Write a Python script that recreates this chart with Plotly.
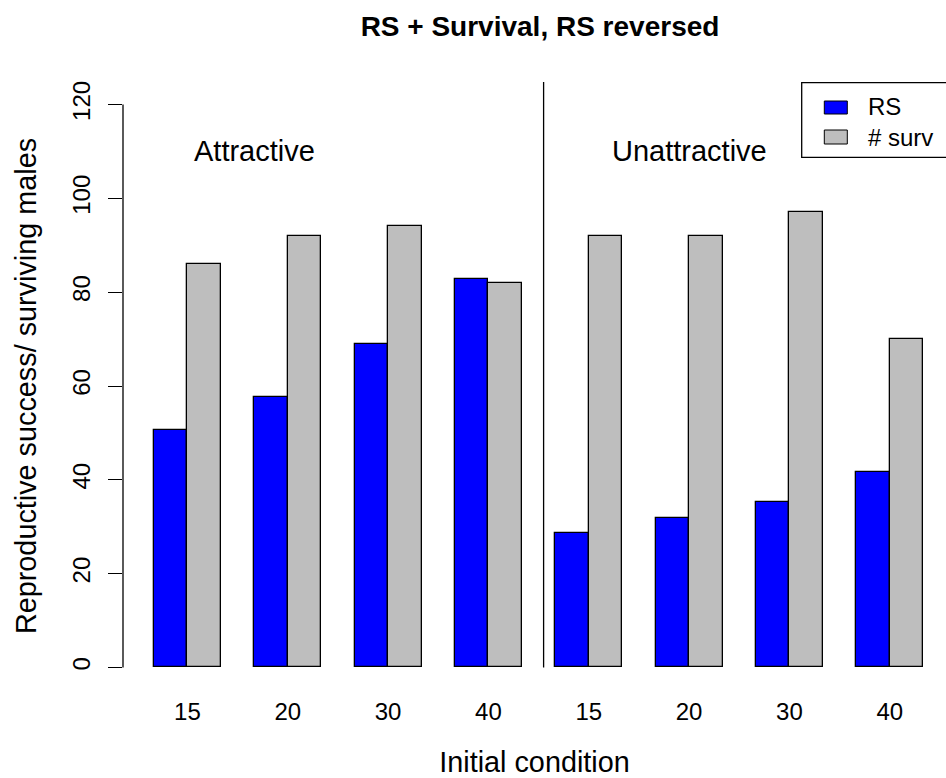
import plotly.graph_objects as go

# ---- data ----
groups = ["Attractive"] * 4 + ["Unattractive"] * 4
conditions = ["15", "20", "30", "40", "15", "20", "30", "40"]
rs_values = [50.6, 57.6, 69.0, 82.9, 28.6, 31.8, 35.3, 41.6]
surv_values = [86.1, 92.0, 94.1, 82.0, 92.0, 92.0, 97.0, 70.0]
y_ticks = [0, 20, 40, 60, 80, 100, 120]

FONT = "Liberation Sans, Arial, Helvetica, sans-serif"
BLUE = "#0000FF"
GRAY = "#BEBEBE"

W, H = 946, 778
ML, MR, MT, MB = 123, 0, 82, 88
PW, PH = W - ML - MR, H - MT - MB

# R barplot layout: each group = 1 space + 2 bars (width 1)
n = len(conditions)
rs_x = [1.5 + 3 * i for i in range(n)]
sv_x = [2.5 + 3 * i for i in range(n)]
centers = [2 + 3 * i for i in range(n)]

# pixel helpers for non-data decorations (legend box)
def px(xp):
    return (xp - ML) / PW

def py(yp):
    return (H - MB - yp) / PH

fig = go.Figure()
fig.add_trace(go.Bar(x=rs_x, y=rs_values, width=1, name="RS",
                     marker=dict(color=BLUE, line=dict(color="black", width=1.3)),
                     showlegend=False))
fig.add_trace(go.Bar(x=sv_x, y=surv_values, width=1, name="# surv",
                     marker=dict(color=GRAY, line=dict(color="black", width=1.3)),
                     showlegend=False))

shapes = []
# y axis spine from 0 to 120 (R style)
shapes.append(dict(type="line", xref="paper", yref="y", x0=0, x1=0, y0=0, y1=120,
                   line=dict(color="black", width=1.3)))
# separator line
shapes.append(dict(type="line", xref="x", yref="y", x0=12.65, x1=12.65, y0=0, y1=124.8,
                   line=dict(color="black", width=1.3)))
# legend box (extends past right edge as in the original)
shapes.append(dict(type="rect", xref="paper", yref="paper",
                   x0=px(801.7), x1=px(960), y0=py(157.3), y1=py(82.7),
                   line=dict(color="black", width=1.3), fillcolor="white"))
shapes.append(dict(type="rect", xref="paper", yref="paper",
                   x0=px(824.3), x1=px(847.3), y0=py(114), y1=py(101),
                   line=dict(color="black", width=1), fillcolor=BLUE))
shapes.append(dict(type="rect", xref="paper", yref="paper",
                   x0=px(824.3), x1=px(847.3), y0=py(144), y1=py(130),
                   line=dict(color="black", width=1), fillcolor=GRAY))

annotations = [
    dict(text="Attractive", x=4, y=110, xref="x", yref="y", showarrow=False,
         font=dict(size=29, color="black", family=FONT)),
    dict(text="Unattractive", x=17, y=110, xref="x", yref="y", showarrow=False,
         font=dict(size=29, color="black", family=FONT)),
    dict(text="RS", x=px(866), y=py(107), xref="paper", yref="paper", xanchor="left",
         yanchor="middle", showarrow=False, font=dict(size=24, color="black", family=FONT)),
    dict(text="# surv", x=px(866), y=py(137), xref="paper", yref="paper", xanchor="left",
         yanchor="middle", showarrow=False, font=dict(size=24, color="black", family=FONT)),
]

fig.update_layout(
    width=W, height=H,
    margin=dict(l=ML, r=MR, t=MT, b=MB, autoexpand=False),
    paper_bgcolor="white", plot_bgcolor="white",
    barmode="overlay", bargap=0,
    font=dict(family=FONT, color="black", size=24),
    title=dict(text="<b>RS + Survival, RS reversed</b>", xref="container", x=540 / W,
               xanchor="center", yref="container", y=1 - 26 / H, yanchor="middle",
               font=dict(size=28, color="black", family=FONT)),
    xaxis=dict(range=[0.0727, 24.683], tickmode="array", tickvals=centers, ticktext=conditions,
               showline=False, showgrid=False, zeroline=False, ticks="",
               ticklabelstandoff=5, tickfont=dict(size=24),
               title=dict(text="Initial condition", font=dict(size=28.8), standoff=27)),
    yaxis=dict(range=[-4.8, 124.8], tickmode="array", tickvals=y_ticks,
               ticktext=[str(v) for v in y_ticks],
               showline=False, showgrid=False, zeroline=False,
               ticks="outside", ticklen=14, tickwidth=1.3, tickcolor="black",
               tickangle=-90, tickfont=dict(size=24), ticklabelstandoff=8,
               title=dict(text="Reproductive success/ surviving males",
                          font=dict(size=28.8), standoff=23)),
    shapes=shapes,
    annotations=annotations,
)

fig.write_html("out.html", config={"displayModeBar": False},
               post_script="document.body.style.margin='0px';document.body.style.overflow='hidden';")
